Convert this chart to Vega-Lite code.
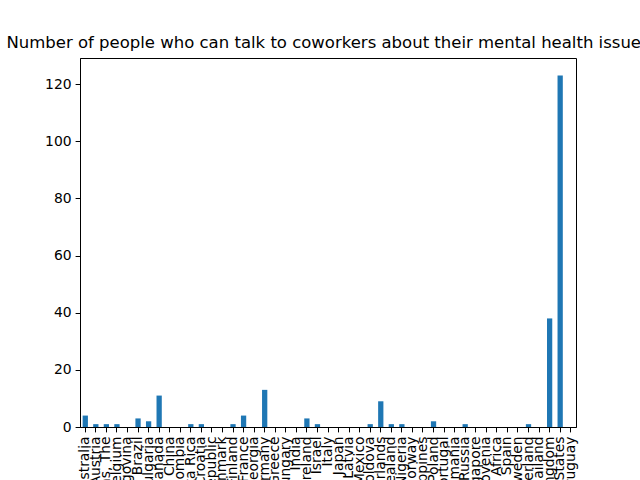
{
  "$schema": "https://vega.github.io/schema/vega-lite/v6.json",
  "width": 496,
  "height": 369,
  "autosize": {"type": "none"},
  "padding": {"left": 80, "top": 58, "right": 64, "bottom": 53},
  "background": "white",
  "title": {"text": "Number of people who can talk to coworkers about their mental health issues", "font": "DejaVu Sans", "fontSize": 16.5, "fontWeight": "normal", "anchor": "middle", "offset": 7, "color": "black"},
  "config": {
    "view": {"stroke": "black", "strokeWidth": 1},
    "axis": {"labelFont": "DejaVu Sans", "labelFontSize": 13.9, "labelColor": "black", "domainColor": "black", "tickColor": "black", "tickSize": 4.9, "grid": false, "title": null, "labelPadding": 4}
  },
  "data": {"values": [
    {"country": "Australia", "n": 4}, {"country": "Austria", "n": 1}, {"country": "Bahamas, The", "n": 1},
    {"country": "Belgium", "n": 1}, {"country": "Bosnia and Herzegovina", "n": 0}, {"country": "Brazil", "n": 3},
    {"country": "Bulgaria", "n": 2}, {"country": "Canada", "n": 11}, {"country": "China", "n": 0},
    {"country": "Colombia", "n": 0}, {"country": "Costa Rica", "n": 1}, {"country": "Croatia", "n": 1},
    {"country": "Czech Republic", "n": 0}, {"country": "Denmark", "n": 0}, {"country": "Finland", "n": 1},
    {"country": "France", "n": 4}, {"country": "Georgia", "n": 0}, {"country": "Germany", "n": 13},
    {"country": "Greece", "n": 0}, {"country": "Hungary", "n": 0}, {"country": "India", "n": 0},
    {"country": "Ireland", "n": 3}, {"country": "Israel", "n": 1}, {"country": "Italy", "n": 0},
    {"country": "Japan", "n": 0}, {"country": "Latvia", "n": 0}, {"country": "Mexico", "n": 0},
    {"country": "Moldova", "n": 1}, {"country": "Netherlands", "n": 9}, {"country": "New Zealand", "n": 1},
    {"country": "Nigeria", "n": 1}, {"country": "Norway", "n": 0}, {"country": "Philippines", "n": 0},
    {"country": "Poland", "n": 2}, {"country": "Portugal", "n": 0}, {"country": "Romania", "n": 0},
    {"country": "Russia", "n": 1}, {"country": "Singapore", "n": 0}, {"country": "Slovenia", "n": 0},
    {"country": "South Africa", "n": 0}, {"country": "Spain", "n": 0}, {"country": "Sweden", "n": 0},
    {"country": "Switzerland", "n": 1}, {"country": "Thailand", "n": 0}, {"country": "United Kingdom", "n": 38},
    {"country": "United States", "n": 123}, {"country": "Uruguay", "n": 0}
  ]},
  "mark": {"type": "bar", "color": "#1f77b4"},
  "encoding": {
    "x": {"field": "country", "type": "nominal", "sort": null,
      "scale": {"paddingInner": 0.5, "paddingOuter": 0.25},
      "axis": {"labelAngle": -90, "labelBaseline": "middle", "labelAlign": "right", "labelOverlap": false, "labelLimit": 0}},
    "y": {"field": "n", "type": "quantitative",
      "scale": {"domain": [0, 129.15], "nice": false},
      "axis": {"values": [0, 20, 40, 60, 80, 100, 120]}}
  }
}
